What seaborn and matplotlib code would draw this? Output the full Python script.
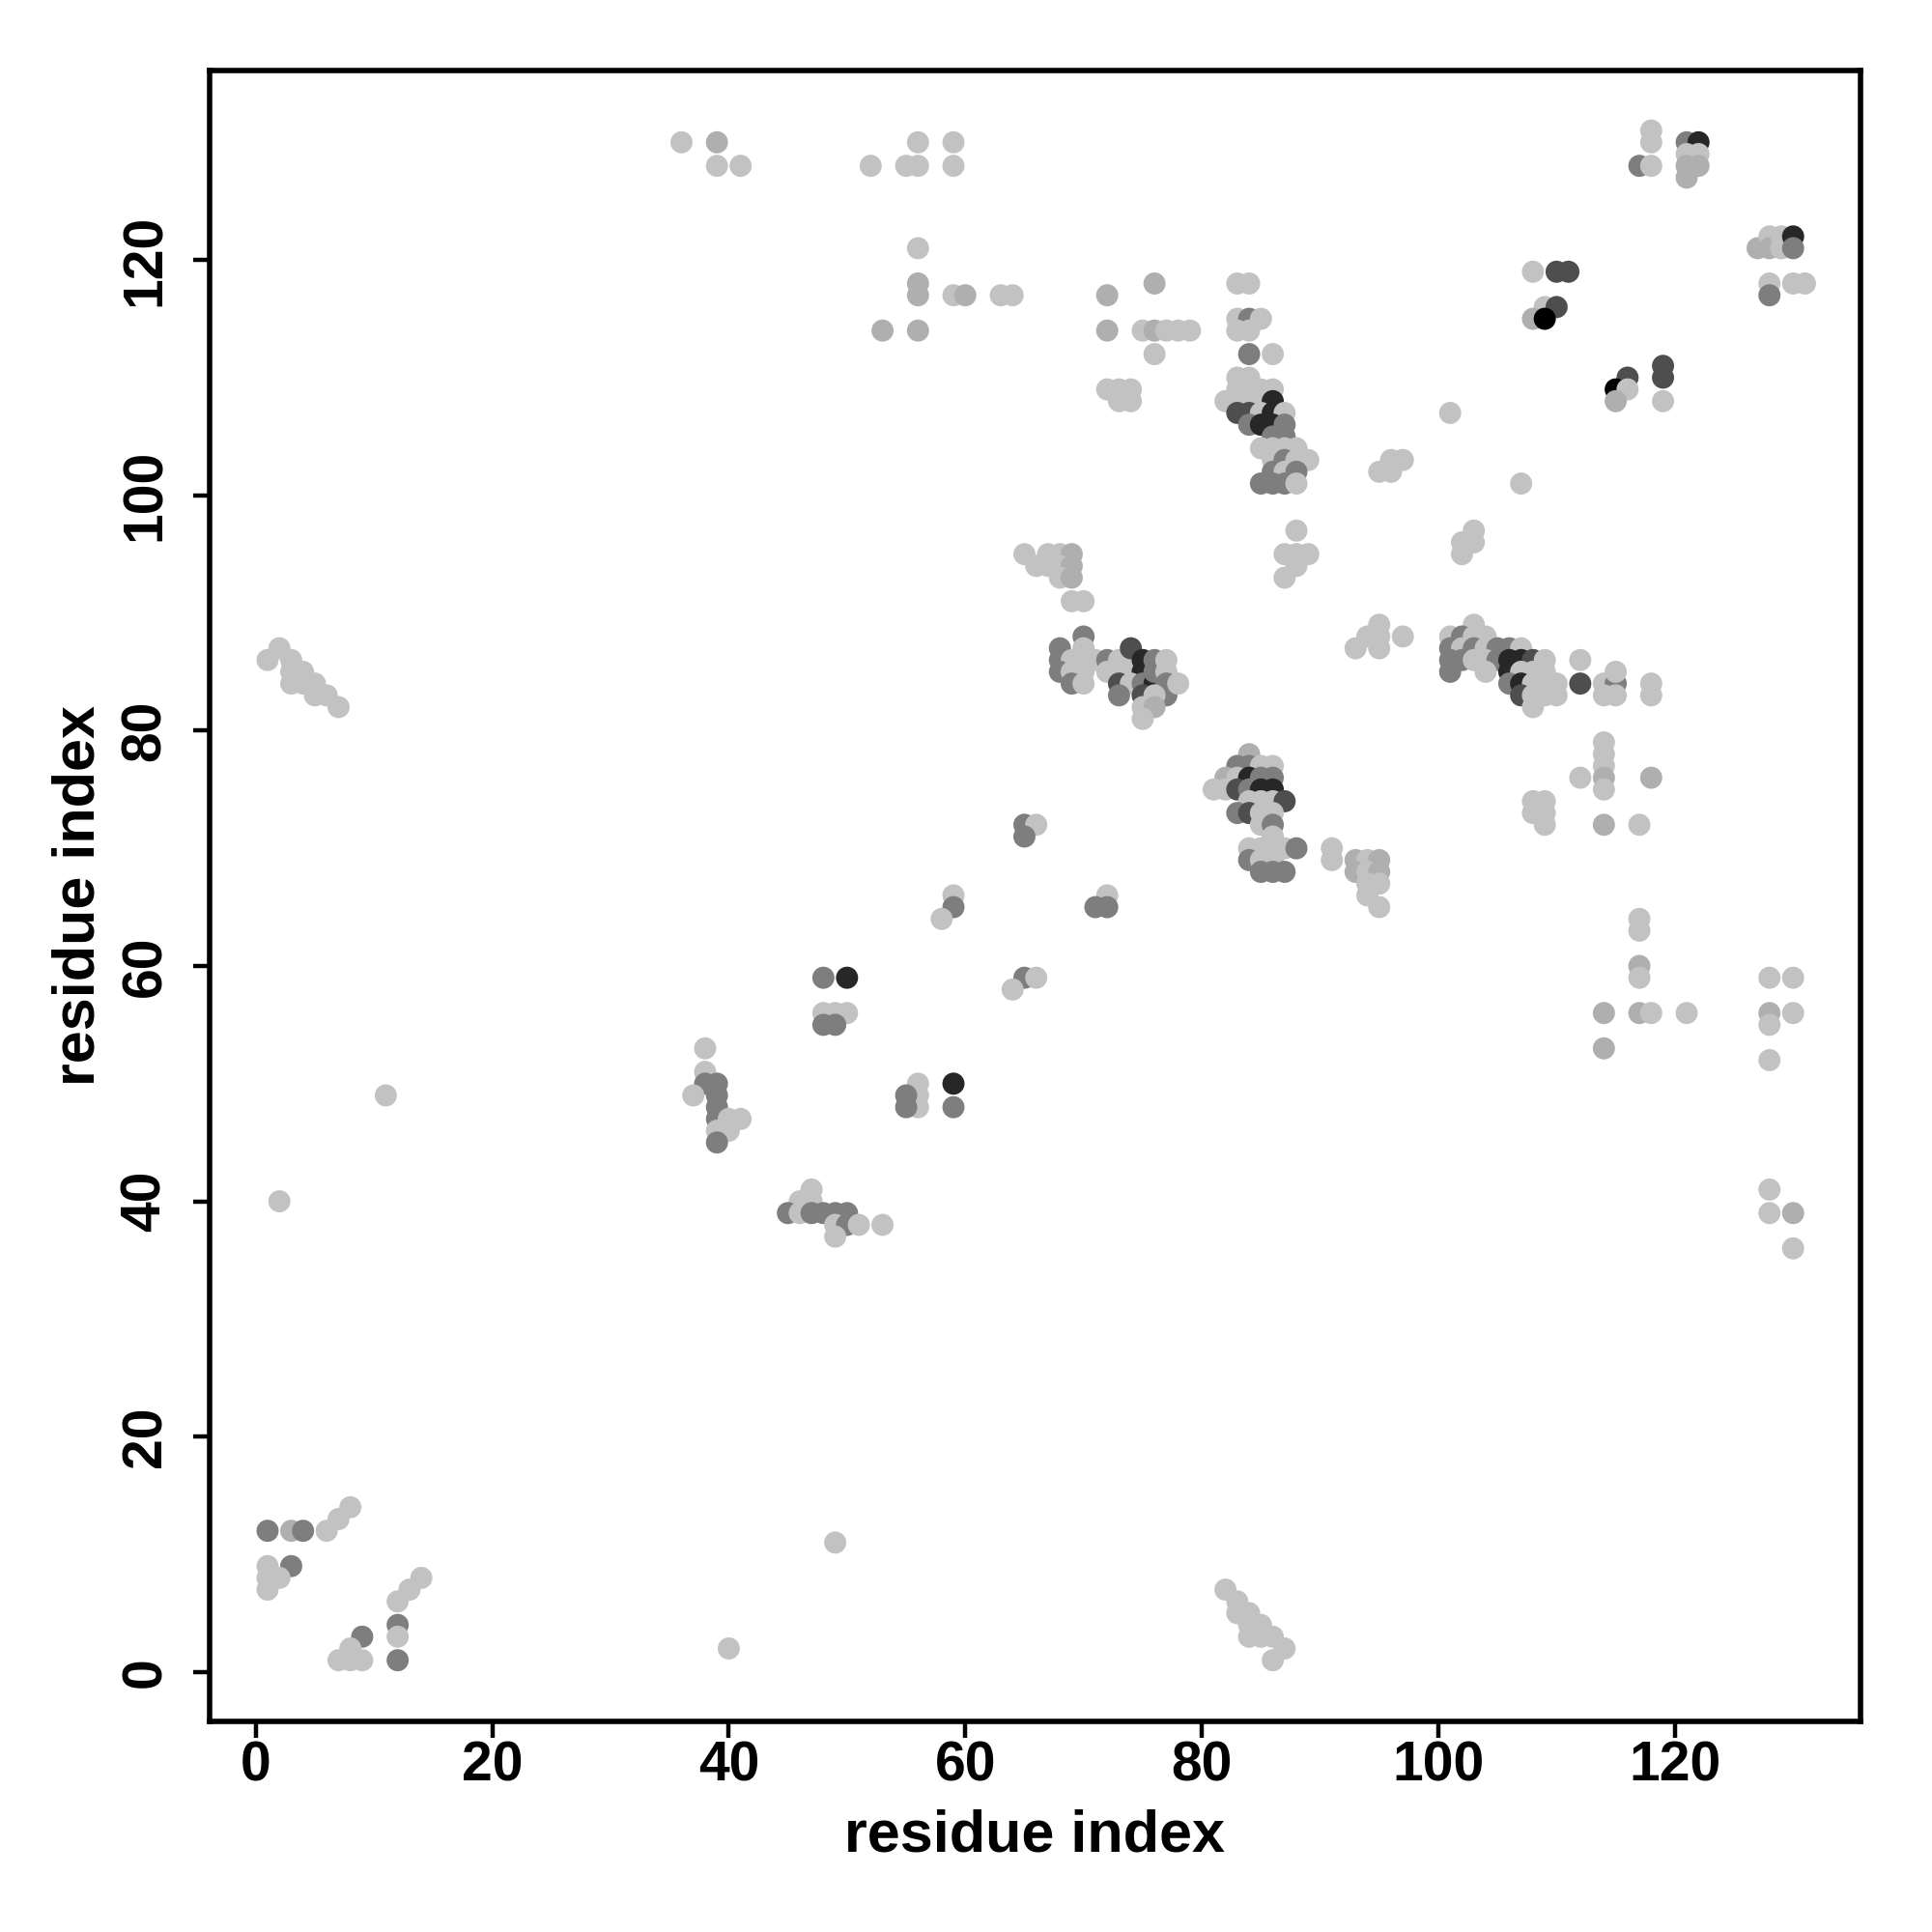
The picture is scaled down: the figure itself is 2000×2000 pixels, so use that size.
import matplotlib
matplotlib.use("Agg")
import matplotlib.pyplot as plt
from matplotlib.colors import LinearSegmentedColormap
import seaborn as sns
import pandas as pd

# shade levels (0 = light grey, 1 = black)
L, ML, M, D, VD, K = 0.0, 0.1, 0.35, 0.6, 0.8, 1.0

# (residue i, residue j, shade)
top_contacts = [
    (36, 130, L), (39, 130, ML), (39, 128, L), (41, 128, L),
    (52, 128, L), (55, 128, L), (56, 128, L), (56, 130, L), (59, 130, L), (59, 128, L),
    (56, 121, L), (56, 118, ML), (56, 117, ML), (59, 117, L), (60, 117, ML), (63, 117, L), (64, 117, L),
    (53, 114, ML), (56, 114, ML),
    (72, 117, ML), (72, 114, ML), (75, 114, L), (76, 114, ML), (77, 114, L), (78, 114, L), (79, 114, L),
    (76, 118, ML), (76, 112, L),
    (72, 109, L), (73, 109, L), (74, 109, L), (73, 108, L), (74, 108, L),
    (83, 118, L), (84, 118, L), (83, 115, L), (84, 115, M), (85, 115, L), (83, 114, L), (84, 114, L),
    (84, 112, M), (86, 112, L),
]

cluster_a = [
    (83, 110, L), (84, 110, L), (83, 109, L), (84, 109, L), (85, 109, L), (86, 109, L),
    (82, 108, L), (83, 108, L), (84, 108, L), (85, 108, L), (86, 108, VD),
    (83, 107, D), (84, 107, D), (85, 107, L), (86, 107, VD), (87, 107, L),
    (84, 106, M), (85, 106, VD), (86, 106, VD), (87, 106, M),
    (86, 105, M), (87, 105, M),
    (85, 104, L), (86, 104, L), (87, 104, L), (88, 104, L),
    (86, 103, L), (87, 103, M), (88, 103, L), (89, 103, L),
    (86, 102, M), (87, 102, L), (88, 102, M),
    (85, 101, M), (86, 101, M), (87, 101, M), (88, 101, L),
]

upper_right = [
    (88, 97, L), (87, 95, L), (88, 95, L), (89, 95, L), (88, 94, L), (87, 93, L),
    (95, 102, L), (96, 102, L), (96, 103, L), (97, 103, L),
    (101, 107, L), (107, 101, L),
    (102, 96, L), (103, 96, L), (103, 97, L), (102, 95, L),
    (108, 119, L), (110, 119, D), (111, 119, D), (109, 116, L), (110, 116, D), (108, 115, ML), (109, 115, K),
    (116, 110, D), (115, 109, K), (116, 109, L), (115, 108, ML), (119, 111, D), (119, 110, D), (119, 108, L),
    (118, 131, L), (118, 130, L), (117, 128, M), (118, 128, L), (121, 130, M), (122, 130, VD),
    (121, 129, L), (122, 129, L), (121, 128, ML), (122, 128, ML), (121, 127, ML),
    (127, 121, ML), (128, 122, L), (128, 121, ML), (129, 122, L), (129, 121, L), (130, 122, VD),
    (130, 121, M), (128, 118, L), (128, 117, M), (130, 118, L), (131, 118, L),
]

cluster_b = [
    (65, 95, L), (67, 95, L), (68, 95, L), (69, 95, ML), (66, 94, L), (67, 94, L), (68, 94, L), (69, 94, ML),
    (68, 93, L), (69, 93, ML), (69, 91, L), (70, 91, L),
    (70, 88, M), (68, 87, M), (70, 87, L), (68, 86, M), (69, 86, L), (70, 86, L), (71, 86, L),
    (68, 85, M), (69, 85, L), (70, 85, L), (69, 84, M), (70, 84, L),
    (72, 86, M), (72, 85, L), (73, 86, L), (73, 85, L), (74, 86, L), (74, 85, L), (74, 87, D),
    (75, 86, VD), (75, 85, VD), (73, 84, D), (74, 84, L), (73, 83, M), (75, 84, M), (76, 84, VD),
    (75, 83, D), (76, 86, M), (76, 85, M), (77, 86, L), (77, 85, L), (77, 84, M), (77, 83, M),
    (76, 83, L), (78, 84, L), (75, 82, L), (76, 82, ML), (75, 81, L),
]

cluster_d = [
    (103, 89, L), (101, 88, L), (102, 88, M), (103, 88, L), (104, 88, L),
    (101, 87, M), (102, 87, L), (103, 87, M), (104, 87, L), (105, 87, M), (106, 87, M), (107, 87, L),
    (101, 86, M), (102, 86, M), (103, 86, L), (104, 86, L), (105, 86, M), (106, 86, VD), (107, 86, VD),
    (108, 86, D), (109, 86, L),
    (101, 85, M), (104, 85, L), (106, 85, VD), (107, 85, L), (108, 85, L), (109, 85, L),
    (106, 84, M), (107, 84, VD), (108, 84, L), (109, 84, L), (110, 84, L),
    (107, 83, D), (108, 83, L), (109, 83, L), (110, 83, L), (108, 82, L),
    (112, 86, L), (112, 84, D), (114, 84, L), (115, 84, M), (115, 85, L), (114, 83, L), (115, 83, L),
    (118, 84, L), (118, 83, L),
    (93, 87, L), (94, 88, L), (95, 88, L), (95, 89, L), (95, 87, L), (97, 88, L),
    (114, 79, L), (114, 78, L), (114, 77, L), (114, 76, ML), (114, 75, L), (112, 76, L), (118, 76, ML),
    (108, 74, L), (109, 74, L), (108, 73, L), (109, 73, L), (109, 72, L), (114, 72, ML), (117, 72, L),
]

cluster_c = [
    (84, 78, ML), (83, 77, M), (84, 77, M), (85, 77, L), (86, 77, L),
    (82, 76, ML), (83, 76, L), (84, 76, VD), (85, 76, M), (86, 76, M),
    (81, 75, L), (82, 75, L), (83, 75, D), (84, 75, M), (85, 75, VD), (86, 75, VD),
    (84, 74, L), (85, 74, L), (86, 74, L), (87, 74, D),
    (83, 73, M), (84, 73, D), (85, 73, L), (86, 73, L),
    (85, 72, L), (86, 72, M), (86, 71, L),
    (84, 70, L), (85, 70, L), (86, 70, L), (87, 70, L), (88, 70, M),
    (84, 69, M), (85, 69, L), (86, 69, L),
    (85, 68, M), (86, 68, M), (87, 68, M),
]

middle_contacts = [
    (65, 72, M), (66, 72, L), (65, 71, M),
    (59, 66, L), (59, 65, M), (58, 64, L), (72, 66, L), (71, 65, M), (72, 65, M),
    (48, 59, M), (50, 59, VD), (48, 56, L), (49, 56, L), (50, 56, L), (48, 55, M), (49, 55, M),
    (65, 59, M), (66, 59, L), (64, 58, L),
    (56, 50, L), (56, 49, L), (56, 48, L), (55, 49, M), (55, 48, M), (59, 50, VD), (59, 48, M),
    (91, 70, L), (91, 69, L), (93, 69, ML), (94, 69, L), (95, 69, ML), (93, 68, ML), (94, 68, L),
    (95, 68, ML), (94, 67, L), (95, 67, L), (94, 66, L), (95, 65, L),
    (117, 64, L), (117, 63, L), (117, 60, ML), (117, 59, L), (114, 56, ML), (117, 56, ML),
    (118, 56, L), (121, 56, L), (114, 53, ML),
    (128, 59, L), (130, 59, L), (128, 56, ML), (128, 55, L), (130, 56, L), (128, 52, L),
]

left_contacts = [
    (1, 86, L), (2, 87, L), (3, 86, L), (3, 85, L), (4, 85, L), (3, 84, L), (4, 84, L), (5, 84, L),
    (5, 83, L), (6, 83, L), (7, 82, L),
    (11, 49, L),
    (38, 53, L), (38, 51, L), (38, 50, M), (39, 50, M), (37, 49, L), (39, 49, M), (39, 48, M),
    (39, 47, M), (40, 47, L), (41, 47, L), (39, 46, L), (40, 46, L), (39, 45, M),
    (2, 40, L),
    (47, 41, L), (46, 40, L), (47, 40, L), (45, 39, M), (46, 39, L), (47, 39, M), (48, 39, M),
    (49, 39, M), (50, 39, M), (49, 38, L), (50, 38, M), (51, 38, L), (53, 38, L), (49, 37, L),
    (128, 41, L), (128, 39, L), (130, 39, ML), (130, 36, L),
]

bottom_contacts = [
    (8, 14, L), (7, 13, L), (6, 12, L), (1, 12, M), (3, 12, ML), (4, 12, M), (1, 9, L), (3, 9, M),
    (1, 8, L), (2, 8, L), (1, 7, L),
    (14, 8, L), (13, 7, L), (12, 6, L), (12, 4, M), (12, 3, L), (12, 1, M), (9, 3, M), (8, 2, L),
    (7, 1, L), (8, 1, L), (9, 1, L),
    (40, 2, L), (49, 11, L),
    (82, 7, L), (83, 6, L), (83, 5, L), (84, 5, L), (84, 4, L), (85, 4, L), (84, 3, L), (85, 3, L),
    (86, 3, L), (87, 2, L), (86, 1, L),
]

tick_values = [0, 20, 40, 60, 80, 100, 120]

rows = (top_contacts + cluster_a + upper_right + cluster_b + cluster_d
        + cluster_c + middle_contacts + left_contacts + bottom_contacts)
df = pd.DataFrame(rows, columns=["i", "j", "shade"])

sns.set_style("white")
plt.rcParams["font.family"] = ["Liberation Sans", "DejaVu Sans"]
plt.rcParams["font.weight"] = "bold"
plt.rcParams["text.color"] = "black"
plt.rcParams["axes.labelcolor"] = "black"
plt.rcParams["xtick.color"] = "black"
plt.rcParams["ytick.color"] = "black"

grey_map = LinearSegmentedColormap.from_list("greys", ["#c2c2c2", "#000000"])

fig = plt.figure(figsize=(10, 10), dpi=200)
ax = fig.add_axes([0.1085, 0.109, 0.8545, 0.8545])

sns.scatterplot(data=df, x="i", y="j", hue="shade", palette=grey_map, hue_norm=(0, 1),
                s=68, linewidth=0, legend=False, ax=ax)

ax.set_xlim(-3.9, 135.7)
ax.set_ylim(-4.2, 136.1)
ax.set_xticks(tick_values)
ax.set_yticks(tick_values)
ax.tick_params(direction="out", length=6, width=1.6, labelsize=20.5,
               colors="black", bottom=True, left=True)
ax.tick_params(axis="x", pad=1)
ax.tick_params(axis="y", pad=8)
for lab in ax.get_yticklabels():
    lab.set_rotation(90)
    lab.set_va("center")
for lab in ax.get_xticklabels() + ax.get_yticklabels():
    lab.set_fontweight("bold")

for sp in ax.spines.values():
    sp.set_visible(True)
    sp.set_color("black")
    sp.set_linewidth(2.0)

ax.set_xlabel("residue index", fontsize=22, fontweight="bold", labelpad=6, color="black")
ax.set_ylabel("residue index", fontsize=22, fontweight="bold", labelpad=5, color="black")

fig.savefig("out.png", dpi=200, facecolor="white")
